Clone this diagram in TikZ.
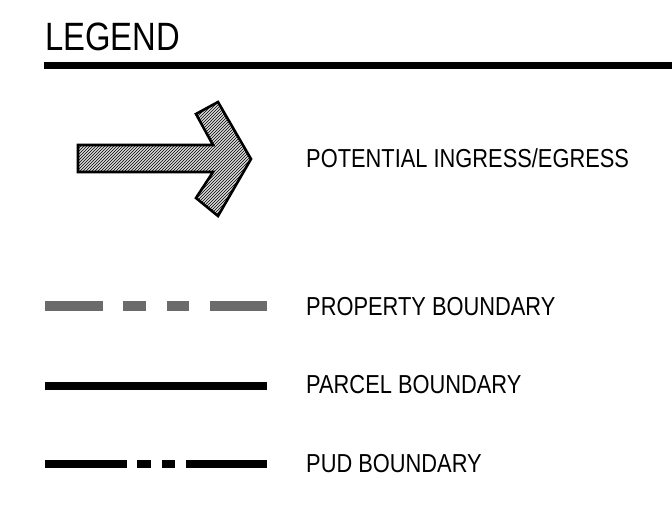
\documentclass[tikz,border=0pt]{standalone}
\usepackage{fontspec}
\setmainfont{Liberation Sans}
\newfontfamily\titlefont[FakeStretch=0.83]{Liberation Sans}
\newfontfamily\labelfont[FakeStretch=0.84]{Liberation Sans}
\usetikzlibrary{patterns}
\definecolor{propgray}{HTML}{6B6B6B}
\tikzset{
  lbl/.style={anchor=base west, inner sep=0pt, font=\labelfont\fontsize{26}{28}\selectfont},
  sample/.style={line cap=butt},
}
\begin{document}
\begin{tikzpicture}[x=1pt,y=-1pt]
\useasboundingbox (0,0) rectangle (672,506);
% title
\node[anchor=base west, inner sep=0pt, font=\titlefont\fontsize{39.5}{42}\selectfont] (title) at (45,50) {LEGEND};
\coordinate (ruleL) at (44,65.5);
\coordinate (ruleR) at (672,65.5);
\draw[line width=7.5pt, sample] (ruleL) -- (ruleR);
% arrow
\draw[line width=2.6pt, line join=miter, fill=gray!30, postaction={pattern=north east lines}]
  (78,145) -- (213,145) -- (196,114) -- (218,102) -- (251,159) -- (218,216) -- (196,198) -- (213,172) -- (78,172) -- cycle;
\node[lbl] (t1) at (306,167) {POTENTIAL INGRESS/EGRESS};
% property boundary
\coordinate (p1) at (45,306);
\coordinate (p2) at (267,306);
\draw[sample, line width=10pt, propgray, dash pattern=on 58pt off 20pt on 23pt off 21pt on 22pt off 21pt on 57pt off 10pt] (p1) -- (p2);
\node[lbl] (t2) at (306,315) {PROPERTY BOUNDARY};
% parcel boundary
\coordinate (q1) at (45,386);
\coordinate (q2) at (267,386);
\draw[sample, line width=8pt] (q1) -- (q2);
\node[lbl] (t3) at (306,393) {PARCEL BOUNDARY};
% PUD boundary
\coordinate (r1) at (45,464);
\coordinate (r2) at (267,464);
\draw[sample, line width=8pt, dash pattern=on 82pt off 10pt on 14pt off 11pt on 13pt off 11pt on 81pt off 10pt] (r1) -- (r2);
\node[lbl] (t4) at (306,472) {PUD BOUNDARY};
\end{tikzpicture}
\end{document}
